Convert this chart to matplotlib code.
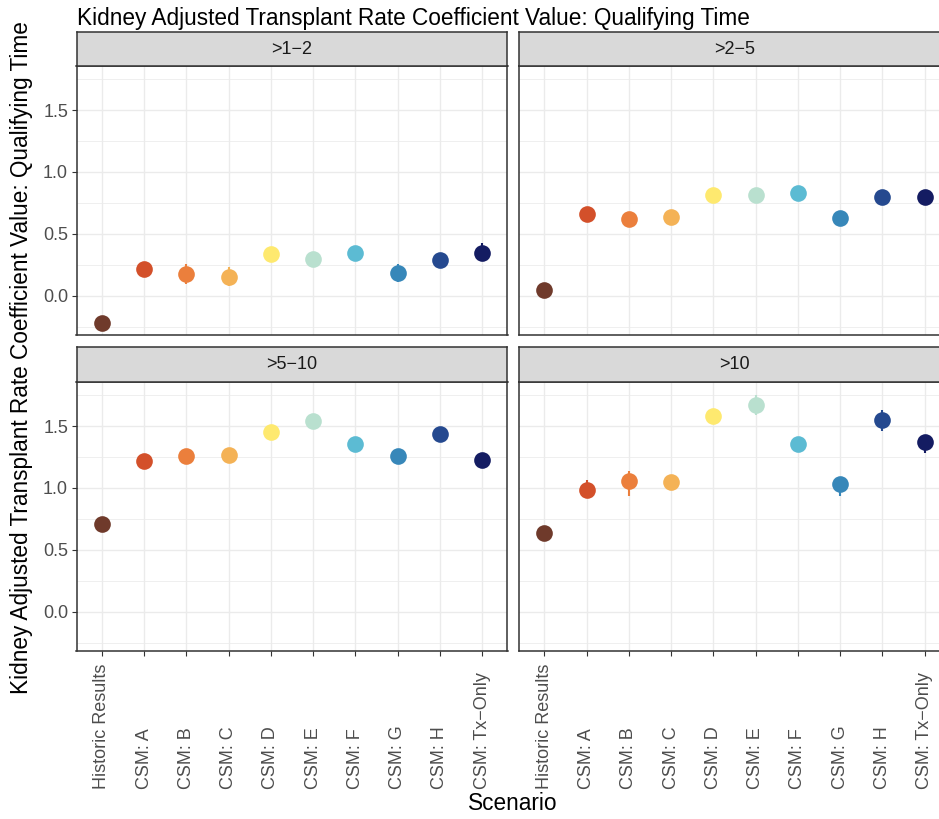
import matplotlib
matplotlib.use("Agg")
import matplotlib.pyplot as plt
from matplotlib.ticker import FixedLocator

plt.rcParams['font.family'] = ['Liberation Sans', 'DejaVu Sans']

# ---------------- data ----------------
scenarios = ["Historic Results", "CSM: A", "CSM: B", "CSM: C", "CSM: D",
             "CSM: E", "CSM: F", "CSM: G", "CSM: H", "CSM: Tx\u2212Only"]
groups = [">1\u22122", ">2\u22125", ">5\u221210", ">10"]
colors = ["#6F3A2B", "#D3502A", "#EB7F3C", "#F4B256", "#FEE96F",
          "#B9E0CF", "#5CBBD3", "#3787B9", "#25498F", "#141C62"]

est_1_2 = [-0.22, 0.215, 0.177, 0.153, 0.336, 0.300, 0.344, 0.183, 0.290, 0.347]
lo_1_2  = [-0.25, 0.170, 0.100, 0.080, 0.300, 0.270, 0.310, 0.110, 0.260, 0.290]
hi_1_2  = [-0.19, 0.260, 0.258, 0.236, 0.370, 0.330, 0.380, 0.258, 0.320, 0.430]

est_2_5 = [0.048, 0.661, 0.624, 0.640, 0.815, 0.815, 0.831, 0.626, 0.798, 0.800]
lo_2_5  = [0.020, 0.630, 0.590, 0.610, 0.785, 0.785, 0.800, 0.595, 0.765, 0.770]
hi_2_5  = [0.075, 0.690, 0.655, 0.670, 0.845, 0.845, 0.860, 0.655, 0.830, 0.830]

est_5_10 = [0.707, 1.215, 1.255, 1.263, 1.449, 1.543, 1.357, 1.258, 1.433, 1.223]
lo_5_10  = [0.680, 1.185, 1.225, 1.233, 1.420, 1.510, 1.325, 1.225, 1.400, 1.190]
hi_5_10  = [0.735, 1.245, 1.285, 1.293, 1.480, 1.575, 1.390, 1.290, 1.465, 1.255]

est_10 = [0.637, 0.986, 1.054, 1.046, 1.583, 1.672, 1.352, 1.030, 1.546, 1.369]
lo_10  = [0.610, 0.930, 0.938, 1.000, 1.540, 1.590, 1.310, 0.938, 1.460, 1.285]
hi_10  = [0.665, 1.065, 1.140, 1.090, 1.620, 1.750, 1.400, 1.090, 1.630, 1.420]

panel_data = [(est_1_2, lo_1_2, hi_1_2), (est_2_5, lo_2_5, hi_2_5),
              (est_5_10, lo_5_10, hi_5_10), (est_10, lo_10, hi_10)]

# ---------------- layout ----------------
W, H = 939, 819
fig = plt.figure(figsize=(W / 100, H / 100), dpi=100)
fig.patch.set_facecolor("white")


def rect(x0, y0, x1, y1):
    return [x0 / W, (H - y1) / H, (x1 - x0) / W, (y1 - y0) / H]


panels = [
    (76.5, 66, 507.5, 335, 32, True, False),
    (519, 66, 950, 335, 32, False, False),
    (76.5, 382, 507.5, 651, 347, True, True),
    (519, 382, 950, 651, 347, False, True),
]

dark = "#333333"
grid = "#EBEBEB"
tickcol = "#4D4D4D"
tick_fs = 13.0
title_fs = 16.3

for k, (x0, y0, x1, y1, sy0, left, bottom) in enumerate(panels):
    est, lo, hi = panel_data[k]
    ax = fig.add_axes(rect(x0, y0, x1, y1))
    ax.set_facecolor("white")
    ax.set_xlim(-0.6, len(scenarios) - 0.4)
    ax.set_ylim(-0.315, 1.855)
    ax.yaxis.set_major_locator(FixedLocator([0.0, 0.5, 1.0, 1.5]))
    ax.yaxis.set_minor_locator(FixedLocator([-0.25, 0.25, 0.75, 1.25, 1.75]))
    ax.xaxis.set_major_locator(FixedLocator(list(range(len(scenarios)))))
    ax.grid(True, which="major", color=grid, linewidth=1.0, zorder=0)
    ax.grid(True, which="minor", axis="y", color=grid, linewidth=0.55, zorder=0)
    ax.set_axisbelow(True)
    for sp in ax.spines.values():
        sp.set_color(dark)
        sp.set_linewidth(1.1)
        sp.set_zorder(5)

    for i in range(len(scenarios)):
        ax.plot([i, i], [lo[i], hi[i]], color=colors[i], linewidth=1.5,
                solid_capstyle="butt", zorder=3)
        ax.plot(i, est[i], "o", color=colors[i], markersize=12,
                markeredgewidth=0, zorder=4)

    ax.tick_params(axis="both", which="minor", length=0)
    ax.tick_params(axis="y", which="major", length=3.6, width=0.8, color=dark,
                   labelsize=tick_fs, labelcolor=tickcol, pad=2.5, left=left,
                   labelleft=left)
    ax.yaxis.set_major_formatter(matplotlib.ticker.FormatStrFormatter("%.1f"))
    ax.tick_params(axis="x", which="major", length=3.6 if bottom else 0,
                   width=0.8, color=dark, labelbottom=False, bottom=bottom)
    if bottom:
        for i, s in enumerate(scenarios):
            ax.text(i, (y1 - 789) / (y1 - y0), s, transform=ax.get_xaxis_transform(),
                    rotation=90, ha="center", va="bottom", fontsize=tick_fs,
                    color=tickcol, clip_on=False)

    # strip
    sax = fig.add_axes(rect(x0, sy0, x1, y0))
    sax.set_facecolor("#D9D9D9")
    sax.set_xticks([])
    sax.set_yticks([])
    for sp in sax.spines.values():
        sp.set_color(dark)
        sp.set_linewidth(1.1)
    sax.text(0.5 * (507.5 - 76.5) / (x1 - x0), 0.5, groups[k], transform=sax.transAxes,
             ha="center", va="center", fontsize=tick_fs, color="#1A1A1A")

# titles
fig.text(77 / W, (H - 25) / H, "Kidney Adjusted Transplant Rate Coefficient Value: Qualifying Time",
         ha="left", va="baseline", fontsize=title_fs, color="black")
fig.text(22 / W, (H - 358) / H, "Kidney Adjusted Transplant Rate Coefficient Value: Qualifying Time",
         ha="center", va="center", rotation=90, fontsize=title_fs, color="black")
fig.text(513 / W, (H - 803) / H, "Scenario", ha="center", va="center",
         fontsize=title_fs, color="black")

fig.savefig("out.png", dpi=100, facecolor="white")
